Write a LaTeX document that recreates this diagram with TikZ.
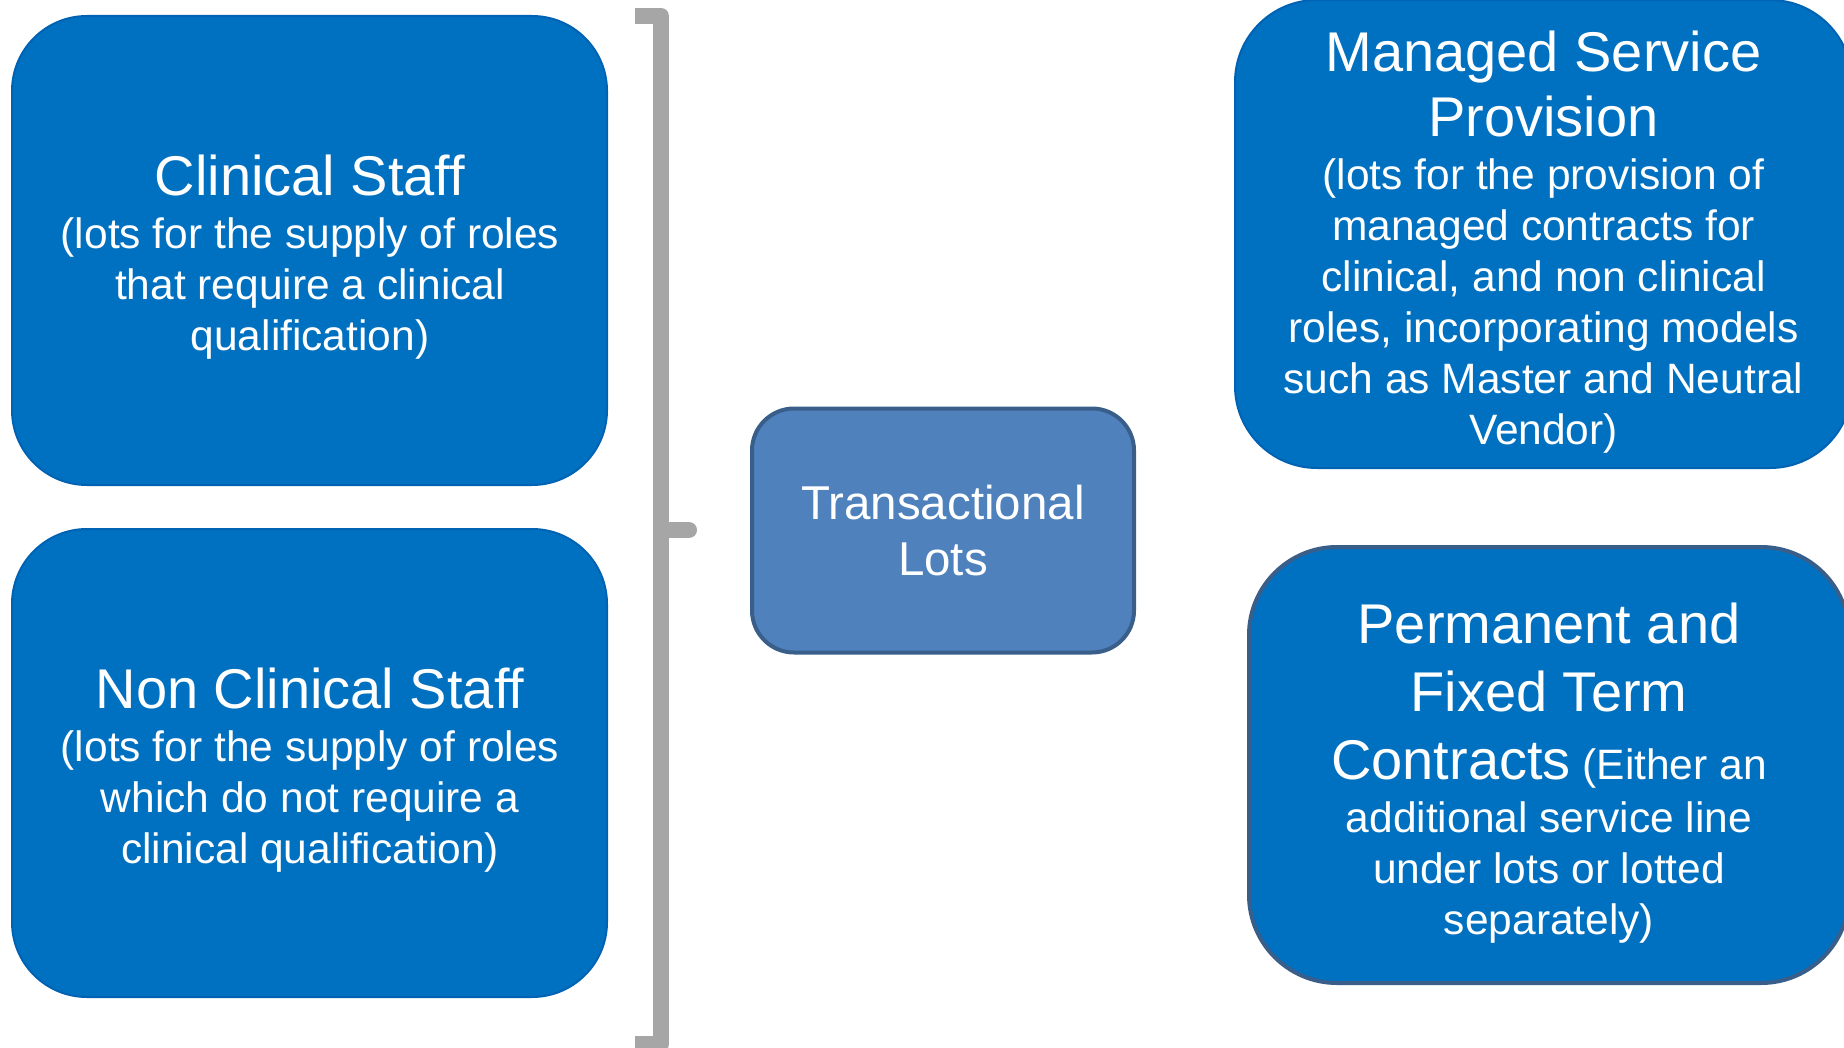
\documentclass[tikz,border=0pt]{standalone}
\usepackage{fontspec}
\setmainfont{Liberation Sans}
\definecolor{lotblue}{RGB}{0,112,192}
\definecolor{lotedge}{RGB}{0,98,178}
\definecolor{hubblue}{RGB}{79,129,189}
\definecolor{hubedge}{RGB}{58,94,138}
\definecolor{brgray}{RGB}{166,166,166}
\newcommand{\hdf}{\fontsize{56}{51}\selectfont}
\newcommand{\smf}{\fontsize{42.5}{51}\selectfont\lineskiplimit=-200pt\relax}
\newcommand{\hubf}{\fontsize{47.5}{56}\selectfont\lineskiplimit=-200pt\relax}
\tikzset{
  lot/.style={draw=lotedge, line width=2pt, fill=lotblue, rounded corners=75pt, inner sep=0pt},
  permbox/.style={draw=hubedge, line width=4pt, fill=lotblue, rounded corners=88pt, inner sep=0pt},
  hub/.style={draw=hubedge, line width=4pt, fill=hubblue, rounded corners=42pt, inner sep=0pt},
  txt/.style={text=white, align=center, inner sep=0pt, font=\smf},
  brace/.style={draw=brgray, line width=16pt, line join=round}
}

\begin{document}
\begin{tikzpicture}[x=1pt, y=-1pt]
  \useasboundingbox (0,0) rectangle (1844,1048);
  % bracket round the two left lots
  \draw[brace] (635,16) -- (661,16) -- (661,1044) -- (635,1044);
  \draw[brace, line cap=round] (661,530) -- (689,530);
  % boxes
  \node[lot, minimum width=595pt, minimum height=469pt] (clin) at (309.5,250.5) {};
  \node[lot, minimum width=595pt, minimum height=468pt] (nonclin) at (309.5,763) {};
  \node[hub, minimum width=382pt, minimum height=244pt] (trans) at (943,530.5) {};
  \node[lot, rounded corners=82pt, minimum width=617pt, minimum height=468pt] (msp) at (1543.5,234) {};
  \node[permbox, minimum width=600pt, minimum height=436pt] (perm) at (1549,765) {};
  % texts
  \node[txt] (clin-t) at (310,257)
    {{\hdf Clinical Staff}\\[2pt] (lots for the supply of roles\\ that require a clinical\\ qualification)};
  \node[txt] (nonclin-t) at (310,770)
    {{\hdf Non Clinical Staff}\\[2pt] (lots for the supply of roles\\ which do not require a\\ clinical qualification)};
  \node[txt, font=\hubf] (trans-t) at (943,531) {Transactional\\ Lots};
  \node[txt] (msp-t) at (1543.5,242)
    {{\hdf Managed Service}\\[14pt] {\hdf Provision}\\[2pt] (lots for the provision of\\ managed contracts for\\
     clinical, and non clinical\\ roles, incorporating models\\ such as Master and Neutral\\ Vendor)};
  \node[txt] (perm-t) at (1549,773)
    {{\hdf Permanent and}\\[17pt] {\hdf Fixed Term}\\[17pt] {\hdf Contracts} (Either an\\[2pt]
     additional service line\\ under lots or lotted\\ separately)};
\end{tikzpicture}
\end{document}
